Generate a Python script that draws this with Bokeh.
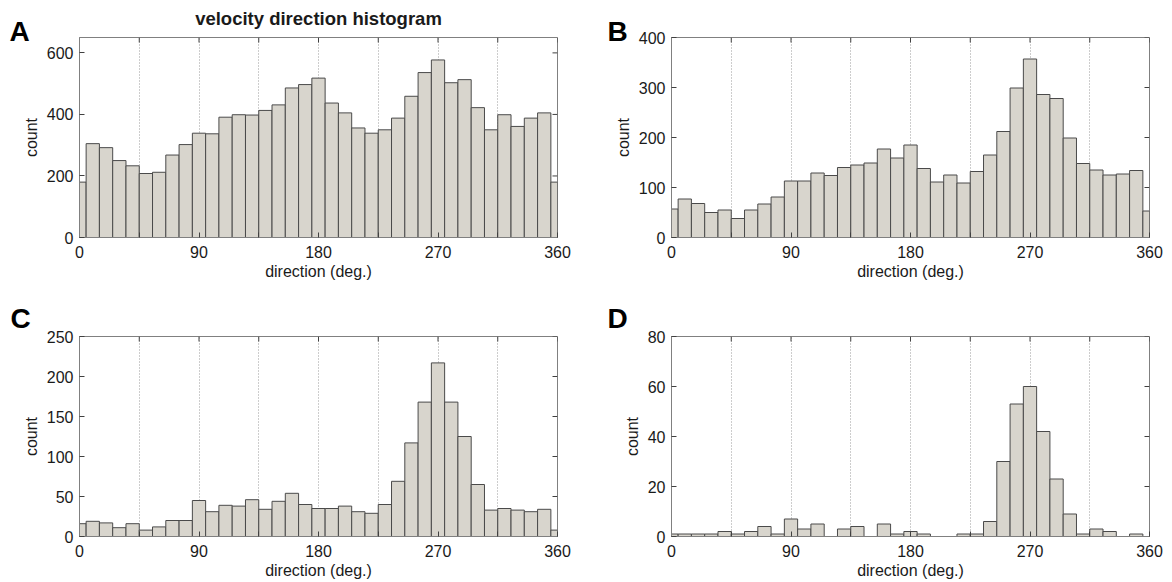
import numpy as np
from bokeh.plotting import figure
from bokeh.layouts import row, column
from bokeh.models import FixedTicker, Range1d, Title
from bokeh.embed import file_html
from bokeh.resources import INLINE

# bin centres (deg.)
centers = [0, 10, 20, 30, 40, 50, 60, 70, 80, 90, 100, 110, 120, 130, 140, 150, 160, 170, 180,
           190, 200, 210, 220, 230, 240, 250, 260, 270, 280, 290, 300, 310, 320, 330, 340, 350, 360]

counts_A = [180, 305, 292, 250, 233, 208, 212, 268, 302, 339, 337, 391, 399, 398, 413, 431, 486, 497, 518,
            437, 405, 356, 339, 350, 388, 459, 536, 577, 503, 513, 422, 350, 399, 361, 388, 405, 180]
counts_B = [57, 77, 68, 50, 55, 38, 55, 67, 81, 113, 113, 129, 124, 140, 145, 149, 177, 159, 185,
            138, 111, 125, 109, 132, 165, 212, 299, 357, 286, 278, 199, 148, 135, 125, 127, 134, 53]
counts_C = [16, 19, 17, 11, 16, 8, 12, 20, 20, 45, 31, 39, 38, 46, 34, 44, 54, 40, 35,
            35, 38, 31, 29, 40, 69, 117, 168, 217, 168, 125, 65, 33, 35, 33, 31, 34, 8]
counts_D = [1, 1, 1, 1, 2, 1, 2, 4, 1, 7, 3, 5, 0, 3, 4, 0, 5, 1, 2,
            1, 0, 0, 1, 1, 6, 30, 53, 60, 42, 23, 9, 1, 3, 2, 0, 1, 0]

x_major = [0, 90, 180, 270, 360]
x_minor = [45, 135, 225, 315]
x_all = [0, 45, 90, 135, 180, 225, 270, 315, 360]
yticks_A = [0, 200, 400, 600]
yticks_B = [0, 100, 200, 300, 400]
yticks_C = [0, 50, 100, 150, 200, 250]
yticks_D = [0, 20, 40, 60, 80]

FONT = "Liberation Sans"
TXT = "#1a1a1a"
FRAME = "#808080"
TICK = "#404040"


def style_axis(ax, ticks, minor):
    ax.ticker = FixedTicker(ticks=ticks, minor_ticks=minor)
    ax.axis_line_color = FRAME
    ax.major_tick_line_color = TICK
    ax.minor_tick_line_color = TICK
    ax.major_tick_in = 5
    ax.major_tick_out = 0
    ax.minor_tick_in = 5
    ax.minor_tick_out = 0
    ax.major_label_text_font = FONT
    ax.major_label_text_color = TXT
    ax.major_label_text_font_size = "16px"
    ax.axis_label_text_font = FONT
    ax.axis_label_text_font_style = "normal"
    ax.axis_label_text_font_size = "16px"
    ax.axis_label_text_color = TXT


def panel(counts, ymax, yticks, letter, loff, lstand, bl, br, bt, bb):
    p = figure(frame_width=478, frame_height=200, x_range=Range1d(0, 360), y_range=Range1d(0, ymax),
               output_backend="svg", toolbar_location=None,
               min_border_left=bl, min_border_right=br, min_border_top=bt, min_border_bottom=bb)
    p.outline_line_color = FRAME
    p.vbar(x=centers, top=counts, bottom=0, width=10,
           fill_color="#d8d5cd", line_color="#4a4a4a", line_width=1)

    style_axis(p.xaxis[0], x_major, x_minor)
    style_axis(p.yaxis[0], yticks, [])
    p.xaxis.axis_label = "direction (deg.)"
    p.yaxis.axis_label = "count"
    p.xaxis.major_label_standoff = 8
    p.xaxis.axis_label_standoff = 2
    p.yaxis.major_label_standoff = 6
    p.yaxis.axis_label_standoff = 4

    # inward ticks on the right and top edges of the box
    p.ray(x=[360] * len(yticks), y=yticks, length=5, length_units="screen", angle=np.pi,
          line_color=TICK, line_width=1)
    p.ray(x=x_all, y=[ymax] * len(x_all), length=5, length_units="screen", angle=-np.pi / 2,
          line_color=TICK, line_width=1)

    p.ygrid.grid_line_color = None
    p.xgrid.ticker = FixedTicker(ticks=x_major, minor_ticks=x_minor)
    p.xgrid.grid_line_color = "#9a9a9a"
    p.xgrid.grid_line_dash = "1 2"
    p.xgrid.minor_grid_line_color = "#9a9a9a"
    p.xgrid.minor_grid_line_dash = "1 2"

    p.add_layout(Title(text=letter, align="left", offset=loff, standoff=lstand,
                       text_font=FONT, text_font_style="bold", text_font_size="28px",
                       text_color="black"), "above")
    return p


pA = panel(counts_A, 650, yticks_A, "A", -70, -18, 79, 43, 37, 53)
pB = panel(counts_B, 400, yticks_B, "B", -64, -18, 71, 20, 37, 53)
pC = panel(counts_C, 250, yticks_C, "C", -69, 6, 79, 43, 46, 44)
pD = panel(counts_D, 80, yticks_D, "D", -64, 6, 71, 20, 46, 44)

pA.add_layout(Title(text="velocity direction histogram", align="center", standoff=-12,
                    text_font=FONT, text_font_style="bold", text_font_size="18.5px",
                    text_color=TXT), "above")

layout = row(column(pA, pC), column(pB, pD))
open("out.html", "w").write(file_html(layout, INLINE))
